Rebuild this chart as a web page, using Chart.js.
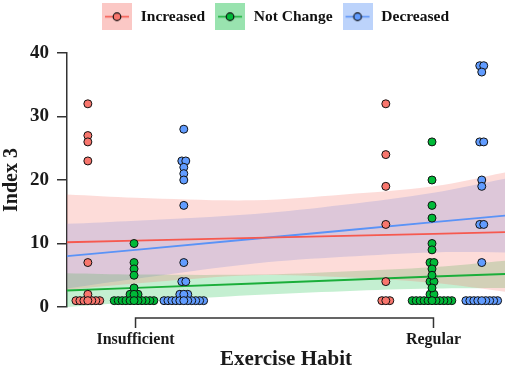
<!DOCTYPE html>
<html>
<head>
<meta charset="utf-8">
<script src="https://cdn.jsdelivr.net/npm/chart.js@4.4.1/dist/chart.umd.min.js"></script>
<style>
  html, body { margin: 0; padding: 0; background: #fff; }
  #wrap { width: 510px; height: 370px; position: relative; }
</style>
</head>
<body>
<div id="wrap"><canvas id="chart"></canvas></div>
<script>
// categories and legend
var groups = ['Insufficient', 'Regular'];
var seriesNames = ['Increased', 'Not Change', 'Decreased'];
var yTicks = [0, 10, 20, 30, 40];

// Index 3 values, one array per series and habit group
var increasedInsufficient = [32, 27, 26, 23, 7, 2, 1, 1, 1, 1, 1, 1, 1];
var increasedRegular = [32, 24, 19, 13, 4, 1, 1, 1];
var notChangeInsufficient = [10, 7, 6, 5, 3, 2, 2, 2, 1, 1, 1, 1, 1, 1, 1, 1, 1, 1, 1];
var notChangeRegular = [26, 20, 16, 14, 10, 9, 7, 7, 6, 5, 4, 4, 3, 2, 2, 1, 1, 1, 1, 1, 1, 1, 1, 1, 1, 1];
var decreasedInsufficient = [28, 23, 23, 22, 21, 20, 16, 7, 4, 4, 2, 2, 2, 1, 1, 1, 1, 1, 1, 1, 1, 1, 1, 1];
var decreasedRegular = [38, 38, 37, 26, 26, 20, 19, 13, 13, 7, 1, 1, 1, 1, 1, 1, 1, 1, 1];

// fitted lines and confidence bands, read at these x positions
var fitX = [0.77, 1.0, 1.4, 1.7, 2.0, 2.24];
var increasedFit = [10.2, 10.45, 10.9, 11.2, 11.5, 11.8];
var increasedUpper = [17.7, 17.2, 16.8, 17.7, 19.0, 21.2];
var increasedLower = [2.7, 3.7, 5.0, 4.7, 3.8, 2.4];
var notChangeFit = [2.6, 3.0, 3.7, 4.25, 4.8, 5.2];
var notChangeUpper = [5.3, 5.1, 5.1, 5.6, 6.3, 7.3];
var notChangeLower = [0, 0.8, 1.9, 2.5, 2.9, 3.0];
var decreasedFit = [8.0, 9.0, 10.75, 12.05, 13.35, 14.4];
var decreasedUpper = [13.1, 13.6, 14.65, 16.1, 18.0, 20.2];
var decreasedLower = [2.9, 4.45, 6.85, 7.9, 8.6, 8.6];

var pointColors = ['#F8766D', '#00BA38', '#619CFF'];
var lineColors = ['#F6594F', '#1AAE3A', '#5A93F7'];
var bandColors = ['rgba(248,118,109,0.26)', 'rgba(0,186,56,0.23)', 'rgba(97,156,255,0.28)'];
var boxColors = ['#FBC8C5', '#99E3AF', '#BCD3FB'];
var dodge = [-0.16, -0.005, 0.162];
var step = 0.0133;
var serif = '"Liberation Serif", "Times New Roman", serif';

// spread equal values side by side, centre dot drawn last
function swarm(values, center) {
  var counts = {}, seen = {}, pts = [];
  values.forEach(function (v) { counts[v] = (counts[v] || 0) + 1; });
  values.forEach(function (v) {
    var k = seen[v] || 0; seen[v] = k + 1;
    var off = (k - (counts[v] - 1) / 2) * step;
    pts.push({ x: center + off, y: v, o: Math.abs(off) });
  });
  pts.sort(function (a, b) { return b.o - a.o; });
  return pts.map(function (p) { return { x: p.x, y: p.y }; });
}

function xy(ys) {
  return ys.map(function (y, i) { return { x: fitX[i], y: y }; });
}

function legendIcon(i) {
  var c = document.createElement('canvas');
  c.width = 30; c.height = 27;
  var g = c.getContext('2d');
  g.fillStyle = boxColors[i];
  g.fillRect(0, 0, 30, 27);
  g.strokeStyle = lineColors[i];
  g.lineWidth = 1.6;
  g.beginPath(); g.moveTo(3, 13.5); g.lineTo(27, 13.5); g.stroke();
  g.beginPath(); g.arc(15, 13.5, 3.8, 0, Math.PI * 2);
  g.fillStyle = pointColors[i]; g.fill();
  g.lineWidth = 1.2; g.strokeStyle = '#111'; g.stroke();
  return c;
}

var fits = [increasedFit, notChangeFit, decreasedFit];
var uppers = [increasedUpper, notChangeUpper, decreasedUpper];
var lowers = [increasedLower, notChangeLower, decreasedLower];
var raw = [
  [increasedInsufficient, increasedRegular],
  [notChangeInsufficient, notChangeRegular],
  [decreasedInsufficient, decreasedRegular]
];

var datasets = [];
for (var s = 0; s < 3; s++) {
  datasets.push({
    type: 'line', label: 'band-up', data: xy(uppers[s]), order: 3,
    borderWidth: 0, pointRadius: 0, tension: 0.35,
    backgroundColor: bandColors[s], fill: '+1'
  });
  datasets.push({
    type: 'line', label: 'band-low', data: xy(lowers[s]), order: 3,
    borderWidth: 0, pointRadius: 0, tension: 0.35, fill: false
  });
}
for (var s = 0; s < 3; s++) {
  datasets.push({
    type: 'line', label: 'fit', data: xy(fits[s]), order: 2,
    borderColor: lineColors[s], borderWidth: 1.8, pointRadius: 0, fill: false
  });
}
for (var s = 0; s < 3; s++) {
  var pts = swarm(raw[s][0], 1 + dodge[s]).concat(swarm(raw[s][1], 2 + dodge[s]));
  datasets.push({
    type: 'scatter', label: seriesNames[s], data: pts, order: 1,
    backgroundColor: pointColors[s], borderColor: '#111',
    borderWidth: 1, pointRadius: 4, pointHoverRadius: 4
  });
}

var legendTweak = {
  id: 'legendTweak',
  beforeInit: function (chart) {
    var fit = chart.legend.fit;
    chart.legend.fit = function () {
      fit.bind(chart.legend)();
      this.height = 53;
    };
  },
  afterLayout: function (chart) {
    chart.legend.left += 20;
    chart.legend.right += 20;
  }
};

var bracket = {
  id: 'bracket',
  afterDraw: function (chart) {
    var x = chart.scales.x, ctx = chart.ctx;
    var a = x.getPixelForValue(1), b = x.getPixelForValue(2);
    var y = chart.chartArea.bottom + 11;
    ctx.save();
    ctx.strokeStyle = '#333';
    ctx.lineWidth = 1.5;
    ctx.beginPath();
    ctx.moveTo(a, y + 10); ctx.lineTo(a, y); ctx.lineTo(b, y); ctx.lineTo(b, y + 10);
    ctx.stroke();
    ctx.restore();
  }
};

new Chart(document.getElementById('chart').getContext('2d'), {
  type: 'scatter',
  data: { datasets: datasets },
  options: {
    responsive: true,
    maintainAspectRatio: false,
    animation: false,
    layout: { padding: 0 },
    scales: {
      x: {
        type: 'linear', min: 0.77, max: 2.24,
        afterFit: function (scale) { scale.height = 63; },
        afterBuildTicks: function (scale) {
          scale.ticks = groups.map(function (g, i) { return { value: i + 1 }; });
        },
        ticks: {
          autoSkip: false, padding: 23, color: '#1a1a1a',
          font: { family: serif, size: 16, weight: 'bold' },
          callback: function (v, i) { return groups[i]; }
        },
        grid: { display: false, drawTicks: false },
        border: { display: false },
        title: {
          display: true, text: 'Exercise Habit', color: '#1a1a1a',
          font: { family: serif, size: 21, weight: 'bold', lineHeight: 1 },
          padding: { top: 0, bottom: 0 }
        }
      },
      y: {
        min: 0, max: 40,
        afterFit: function (scale) { scale.width = 67; },
        afterBuildTicks: function (scale) {
          scale.ticks = yTicks.map(function (v) { return { value: v }; });
        },
        ticks: {
          padding: 8, color: '#1a1a1a',
          font: { family: serif, size: 19, weight: 'bold' }
        },
        grid: { drawOnChartArea: false, tickLength: 10, color: '#333', lineWidth: 1.5 },
        border: { display: true, color: '#333', width: 1.5 },
        title: {
          display: true, text: 'Index 3', color: '#1a1a1a',
          font: { family: serif, size: 20, weight: 'bold' },
          padding: { top: 0, bottom: 0 }
        }
      }
    },
    plugins: {
      legend: {
        position: 'top',
        labels: {
          usePointStyle: true, pointStyleWidth: 32, padding: 9,
          color: '#111', font: { family: serif, size: 15.5, weight: 'bold' },
          generateLabels: function () {
            return seriesNames.map(function (n, i) {
              return { text: n, pointStyle: legendIcon(i), fillStyle: boxColors[i],
                       strokeStyle: boxColors[i], lineWidth: 0, datasetIndex: 9 + i, fontColor: '#111' };
            });
          }
        }
      },
      tooltip: { enabled: false }
    }
  },
  plugins: [legendTweak, bracket]
});
</script>
</body>
</html>
